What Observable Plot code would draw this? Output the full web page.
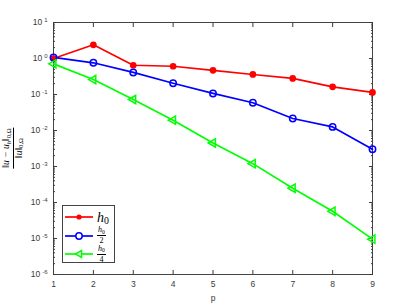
<!DOCTYPE html>
<html><head><meta charset="utf-8">
<script src="https://cdn.jsdelivr.net/npm/d3@7"></script>
<script src="https://cdn.jsdelivr.net/npm/@observablehq/plot@0.6"></script>
<style>
body{margin:0;background:#fff;}
#wrap{position:relative;width:411px;height:308px;font-family:"Liberation Sans",Arial,sans-serif;}
.serif{font-family:"Liberation Serif","DejaVu Serif",serif;font-style:italic;}
.frac{display:inline-flex;flex-direction:column;align-items:center;vertical-align:middle;line-height:1;}
.frac .num{border-bottom:1px solid #000;padding:0 1px 1px 1px;white-space:nowrap;}
.frac .den{padding-top:1px;white-space:nowrap;}
.lo{position:relative;top:0.3em;font-size:0.7em;font-style:normal;line-height:0;}
.loi{position:relative;top:0.3em;font-size:0.7em;line-height:0;}
</style></head>
<body><div id="wrap"></div>
<script>
const p = [1,2,3,4,5,6,7,8,9];
const errH0   = [1.0, 2.4, 0.65, 0.61, 0.47, 0.36, 0.28, 0.163, 0.114];
const errH0_2 = [1.07, 0.76, 0.41, 0.206, 0.107, 0.059, 0.0216, 0.0126, 0.0030];
const errH0_4 = [0.71, 0.26, 0.0726, 0.0194, 0.0045, 0.0012, 0.00025, 0.000057, 0.0000096];
const yTickExps = [-6,-5,-4,-3,-2,-1,0,1];
const xTicks = [1,2,3,4,5,6,7,8,9];

const yTicks = yTickExps.map(e => Math.pow(10, e));
const minorTicks = [];
for (let e = -6; e < 1; e++) for (let k = 2; k <= 9; k++) minorTicks.push(k * Math.pow(10, e));
const expLabel = v => "10^" + String(Math.round(Math.log10(v)));

const rows = p.map((x,i) => ({p:x, a:errH0[i], b:errH0_2[i], c:errH0_4[i]}));
const lw = 1.7;
const axisColor = "#3a3a3a";

const chart = Plot.plot({
  width: 411, height: 308,
  marginLeft: 53, marginRight: 39, marginTop: 22, marginBottom: 34,
  style: {fontFamily: "'Liberation Sans', Arial, sans-serif", fontSize: "8.5px", color: axisColor, background: "#fff"},
  x: {domain: [1, 9]},
  y: {type: "log", domain: [1e-6, 10]},
  marks: [
    Plot.frame({stroke: "#444", strokeWidth: 1}),
    Plot.axisX({ticks: xTicks, tickSize: 0, tickPadding: 6, tickFormat: d => String(d), label: "p", labelAnchor: "center", labelArrow: "none", labelOffset: 26}),
    Plot.axisX({ticks: xTicks, tickSize: -4, tickFormat: () => "", label: null}),
    Plot.axisX({anchor: "top", ticks: xTicks, tickSize: -4, tickFormat: () => "", label: null}),
    Plot.axisY({ticks: yTicks, tickSize: 0, tickPadding: 6, tickFormat: expLabel, label: null}),
    Plot.axisY({ticks: yTicks, tickSize: -4, tickFormat: () => "", label: null}),
    Plot.axisY({ticks: minorTicks, tickSize: -2, tickFormat: () => "", label: null}),
    Plot.axisY({anchor: "right", ticks: yTicks, tickSize: -4, tickFormat: () => "", label: null}),
    Plot.axisY({anchor: "right", ticks: minorTicks, tickSize: -2, tickFormat: () => "", label: null}),
    Plot.line(rows, {x: "p", y: "a", stroke: "#ff0000", strokeWidth: lw}),
    Plot.line(rows, {x: "p", y: "b", stroke: "#0000ff", strokeWidth: lw}),
    Plot.line(rows, {x: "p", y: "c", stroke: "#00ff00", strokeWidth: lw}),
    Plot.dot(rows, {x: "p", y: "a", r: 2.6, fill: "#ff0000", stroke: "#ff0000"}),
    Plot.dot(rows, {x: "p", y: "b", r: 3.2, fill: "none", stroke: "#0000ff", strokeWidth: 1.5}),
    Plot.dot(rows, {x: "p", y: "c", r: 3.1, symbol: "triangle", rotate: -90, fill: "none", stroke: "#00ff00", strokeWidth: 1.5})
  ]
});
// turn "10^e" tick labels into base + superscript
d3.select(chart).selectAll("text").each(function() {
  const t = this.textContent;
  if (t.startsWith("10^")) {
    const e = t.slice(3);
    const sel = d3.select(this);
    sel.text("10");
    sel.append("tspan").attr("dx", "2").attr("dy", "-3.5").attr("font-size", "6px").text(e);
  }
});
const wrap = document.getElementById("wrap");
wrap.appendChild(chart);

// y-axis label (rotated fraction)
const yl = document.createElement("div");
yl.style.cssText = "position:absolute;left:13px;top:148px;transform:translate(-50%,-50%) rotate(-90deg);font-size:9.5px;white-space:nowrap;";
yl.innerHTML = '<span class="frac serif"><span class="num">‖u − u<span class="loi">h</span>‖<span class="lo">0,Ω</span></span><span class="den">‖u‖<span class="lo">0,Ω</span></span></span>';
wrap.appendChild(yl);

// legend
const legendItems = [
  {color:"#ff0000", sym:"dot", label:'<span class="serif" style="font-size:14px">h<span class="lo">0</span></span>'},
  {color:"#0000ff", sym:"circle", label:'<span class="frac serif" style="font-size:8px"><span class="num">h<span class="lo">0</span></span><span class="den" style="font-style:normal">2</span></span>'},
  {color:"#00ff00", sym:"tri", label:'<span class="frac serif" style="font-size:8px"><span class="num">h<span class="lo">0</span></span><span class="den" style="font-style:normal">4</span></span>'}
];
const lg = document.createElement("div");
lg.style.cssText = "position:absolute;left:62px;top:205px;width:53px;height:58px;border:1px solid #444;background:#fff;box-sizing:border-box;";
legendItems.forEach((it, i) => {
  const row = document.createElement("div");
  row.style.cssText = `position:absolute;left:2px;top:${[2.5,21.5,40][i]}px;height:16px;display:flex;align-items:center;`;
  let m = "";
  if (it.sym === "dot") m = `<circle cx="14" cy="8" r="2.6" fill="${it.color}"/>`;
  if (it.sym === "circle") m = `<circle cx="14" cy="8" r="3.2" fill="white" stroke="${it.color}" stroke-width="1.5"/>`;
  if (it.sym === "tri") m = `<path d="M10.5,8 L16.5,4.5 L16.5,11.5 Z" fill="white" stroke="${it.color}" stroke-width="1.5"/>`;
  row.innerHTML = `<svg width="29" height="16" style="display:block"><line x1="0" x2="28" y1="8" y2="8" stroke="${it.color}" stroke-width="${lw}"/>${m}</svg><span style="margin-left:3px;line-height:1">${it.label}</span>`;
  lg.appendChild(row);
});
wrap.appendChild(lg);
</script></body></html>
